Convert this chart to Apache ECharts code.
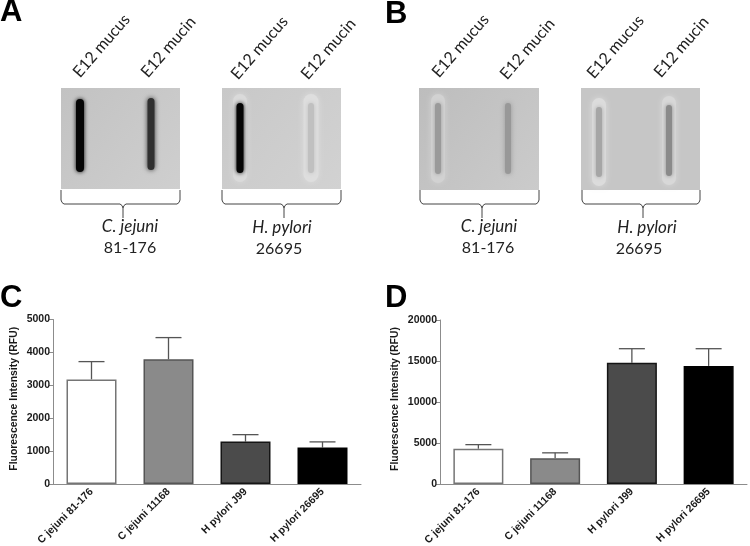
<!DOCTYPE html>
<html><head><meta charset="utf-8">
<style>html,body{margin:0;padding:0;background:#fff}#c{width:750px;height:546px}</style>
<script src="https://cdn.jsdelivr.net/npm/echarts@6/dist/echarts.min.js"></script>
</head><body><div id="c"></div>
<script>
const categories = ['C jejuni 81-176','C jejuni 11168','H pylori J99','H pylori 26695'];
const valuesC = [3180,3790,1290,1110];
const errorTopC = [3720,4450,1500,1280];
const valuesD = [4300,3150,14800,14400];
const errorTopD = [4800,3800,16500,16500];
const fills = ['#ffffff','#8a8a8a','#4b4b4b','#000000'];
const borders = ['#757575','#555555','#151515','#000000'];

const SANS = '"Liberation Sans", Arial, sans-serif';
const SERIF = 'Lato, "Open Sans", sans-serif';
const g = [];
function panel(x,y,w,h,c1,c2){
  g.push({type:'rect',silent:true,shape:{x,y,width:w,height:h},
    style:{fill:new echarts.graphic.LinearGradient(0,0,1,1,[{offset:0,color:c1},{offset:1,color:c2}])}});
}
function band(cx,y1,y2,w,color,halo,haloW,blur){
  if(halo){
    g.push({type:'rect',silent:true,shape:{x:cx-haloW/2,y:y1-9,width:haloW,height:y2-y1+18,r:haloW/2},
      style:{fill:halo,shadowColor:halo,shadowBlur:6}});
  }
  g.push({type:'rect',silent:true,shape:{x:cx-w/2,y:y1,width:w,height:y2-y1,r:w/2},
    style:{fill:color,shadowColor:color,shadowBlur:blur||3}});
}
function brace(x1,x2,cx){
  const st={fill:null,stroke:'#444',lineWidth:1};
  g.push({type:'polyline',silent:true,shape:{points:[[x1,190],[x1,200],[x1+1,202.5],[x1+3,204],
    [cx-3,204],[cx-1,205.5],[cx,208],[cx+1,205.5],[cx+3,204],[x2-3,204],[x2-1,202.5],[x2,200],[x2,190]]},style:st});
  g.push({type:'line',silent:true,shape:{x1:cx,y1:208,x2:cx,y2:218},style:st});
}
function txt(text,x,y,o){
  g.push({type:'text',silent:true,x,y,rotation:(o&&o.rot)||0,style:{text,x:0,y:0,
    fill:(o&&o.fill)||'#222',font:((o&&o.font)||'16px '+SERIF),align:(o&&o.align)||'center',verticalAlign:'middle'}});
}
// blots
panel(61,88,119,101,'#c2c2c2','#cfcfcf');
band(80,99,172,8,'#060606',null,0,4);
band(151,98,170,7,'#303030',null,0,5);
panel(222,88,119,101,'#c8c8c8','#d2d2d2');
band(240,103,173,7,'#060606','#dadada',14,4);
band(311,103,173,6,'#c0c0c0','#dedede',15,4);
panel(419,88,120,102,'#bdbdbd','#cbcbcb');
band(438,103,174,6,'#9a9a9a','#d2d2d2',14,4);
band(508,103,174,6,'#989898',null,0,5);
panel(581,88,119,102,'#c6c6c6','#c6c6c6');
band(599,107,177,6,'#a6a6a6','#dcdcdc',14,4);
band(669,105,176,6,'#8a8a8a','#d8d8d8',14,4);
// braces
brace(61,180,123);brace(222,341,284);brace(420,539,482);brace(582,700,643);
// rotated labels
const ROT = 49*Math.PI/180;
[[76,75,'E12 mucus'],[144,75,'E12 mucin'],[234,77,'E12 mucus'],[304,77,'E12 mucin'],
 [435,75,'E12 mucus'],[503,77,'E12 mucin'],[590,76,'E12 mucus'],[657,75,'E12 mucin']]
 .forEach(a=>txt(a[2],a[0],a[1],{rot:ROT,align:'left'}));
// captions
[[130,227,'C. jejuni',1],[130,248,'81-176',0],[282,228,'H. pylori',1],[279,249,'26695',0],
 [489,227,'C. jejuni',1],[488,248,'81-176',0],[647,228,'H. pylori',1],[639,249,'26695',0]]
 .forEach(a=>txt(a[2],a[0],a[1],{font:(a[3]?'italic 17px ':'16px ')+SERIF}));
// panel letters
[['A',0,12],['B',385,14],['C',0,298],['D',385,298]].forEach(a=>
  txt(a[0],a[1],a[2],{font:'bold 31px '+SANS,align:'left',fill:'#000'}));

function axes(idx,max,interval,gap){
  return {
    x:{type:'category',gridIndex:idx,data:categories,
      axisLine:{lineStyle:{color:'#8c8c8c',width:1}},axisTick:{show:false},
      axisLabel:{interval:0,rotate:45,margin:6,color:'#1a1a1a',fontFamily:SANS,fontWeight:'bold',fontSize:10.5}},
    y:{type:'value',gridIndex:idx,min:0,max,interval,splitLine:{show:false},
      name:'Fluorescence Intensity (RFU)',nameLocation:'middle',nameGap:gap,
      nameTextStyle:{color:'#1a1a1a',fontFamily:SANS,fontWeight:'bold',fontSize:10.4,padding:[0,0,0,6]},
      axisLine:{show:true,lineStyle:{color:'#8c8c8c',width:1}},
      axisTick:{show:true,length:4,lineStyle:{color:'#8c8c8c'}},
      axisLabel:{margin:3,color:'#1a1a1a',fontFamily:SANS,fontWeight:'bold',fontSize:10.5,formatter:v=>String(v)}}
  };
}
function barSeries(idx,vals){
  return {type:'bar',xAxisIndex:idx,yAxisIndex:idx,barWidth:50,silent:true,z:3,
    data:vals.map((v,i)=>({value:v,itemStyle:{color:fills[i],borderColor:borders[i],borderWidth:1.5}}))};
}
function errSeries(idx,vals,tops){
  return {type:'custom',xAxisIndex:idx,yAxisIndex:idx,silent:true,z:2,
    data:vals.map((v,i)=>[i,v,tops[i]]),encode:{x:0,y:2},
    renderItem:(params,api)=>{
      const base=api.coord([api.value(0),api.value(1)]);
      const top=api.coord([api.value(0),api.value(2)]);
      const st={stroke:'#555',lineWidth:1.3};
      return {type:'group',children:[
        {type:'line',shape:{x1:base[0],y1:base[1],x2:top[0],y2:top[1]},style:st},
        {type:'line',shape:{x1:top[0]-13,y1:top[1],x2:top[0]+13,y2:top[1]},style:st}
      ]};
    }};
}
const C=axes(0,5000,1000,34), D=axes(1,20000,5000,40);
echarts.init(document.getElementById('c'),null,{renderer:'canvas'}).setOption({
  animation:false,backgroundColor:'#fff',
  grid:[{left:53,top:319.5,width:308,height:164.5,outerBoundsMode:'none'},{left:440,top:320,width:307,height:164,outerBoundsMode:'none'}],
  xAxis:[C.x,D.x],yAxis:[C.y,D.y],
  series:[barSeries(0,valuesC),errSeries(0,valuesC,errorTopC),barSeries(1,valuesD),errSeries(1,valuesD,errorTopD)],
  graphic:{elements:g}
});
</script></body></html>
